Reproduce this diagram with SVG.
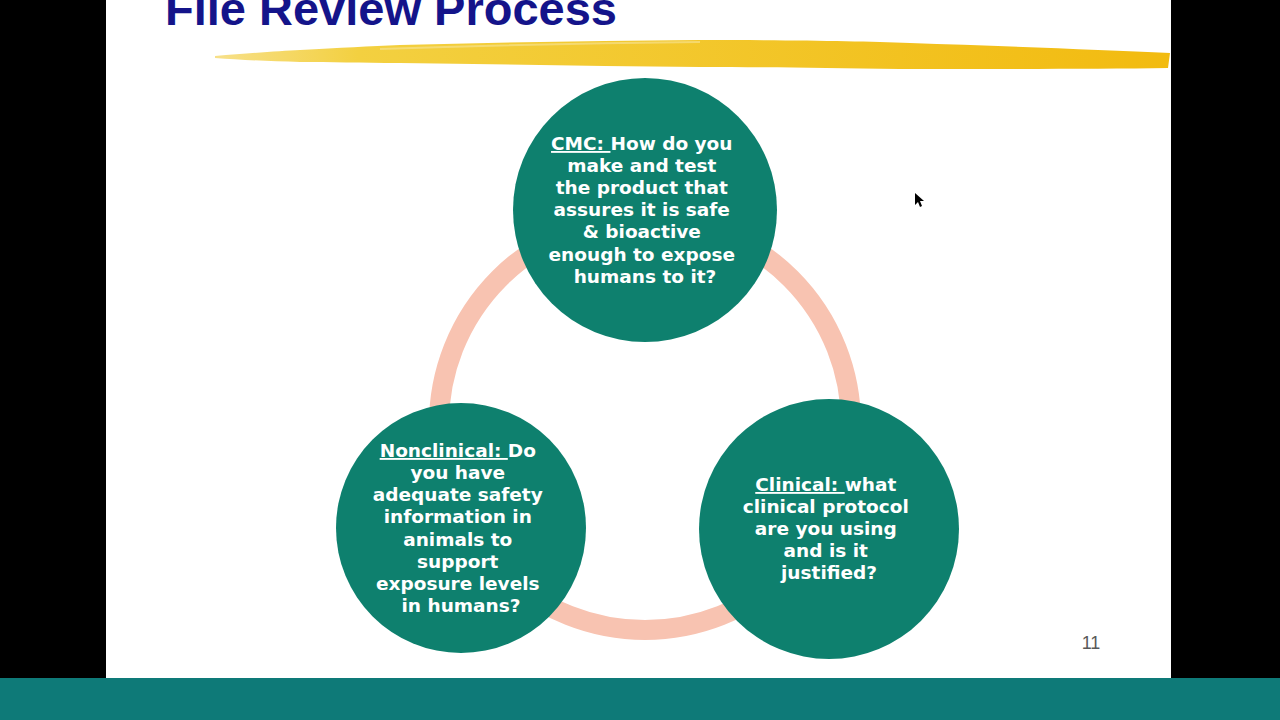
<svg xmlns="http://www.w3.org/2000/svg" width="1280" height="720" viewBox="0 0 1280 720">
<defs>
<style>
.node{fill:#0e806e}
.lbl{font-family:"DejaVu Sans",Verdana,sans-serif;font-weight:bold;font-size:18.5px;fill:#ffffff;text-anchor:middle}
.u{text-decoration:underline}
</style>
<linearGradient id="brush" x1="0" y1="0" x2="1" y2="0">
<stop offset="0" stop-color="#f7e08a"/>
<stop offset="0.15" stop-color="#f3d040"/>
<stop offset="1" stop-color="#f2bb10"/>
</linearGradient>
</defs>
<rect x="0" y="0" width="1280" height="720" fill="#000000"/>
<rect x="106" y="0" width="1065" height="678" fill="#ffffff"/>
<rect x="0" y="678" width="1280" height="42" fill="#0e7a78"/>
<text x="165" y="25" font-family="'Liberation Sans',Arial,sans-serif" font-weight="bold" font-size="47" fill="#14148a">File Review Process</text>
<path d="M215,56 C250,53 280,51 300,50 C340,48 370,46 400,45 C500,42 600,41 700,40 C800,40 860,41 910,43 C1000,46 1100,50 1170,53 L1168,68 C1100,69 1000,69 900,69 C820,68 760,67 700,67 C600,66 500,64 400,63 C360,63 330,62 300,62 C270,61 240,60 215,58 Z" fill="url(#brush)"/>
<path d="M380,49 C500,45 600,43 700,42" stroke="#f7e59a" stroke-width="2" fill="none" opacity="0.6"/>
<g id="connectors">
<circle cx="645" cy="424" r="206" fill="none" stroke="#f8c3b1" stroke-width="20"/>
</g>
<g id="cmc">
<circle class="node" cx="645" cy="210" r="132"/>
<text class="lbl">
<tspan x="645" y="150"><tspan class="u">CMC: </tspan>How do you</tspan>
<tspan x="645" y="172">make and test</tspan>
<tspan x="645" y="194">the product that</tspan>
<tspan x="645" y="216">assures it is safe</tspan>
<tspan x="645" y="238">&amp; bioactive</tspan>
<tspan x="645" y="261">enough to expose</tspan>
<tspan x="645" y="283">humans to it?</tspan>
</text>
</g>
<g id="nonclinical">
<circle class="node" cx="461" cy="528" r="125"/>
<text class="lbl">
<tspan x="461" y="457"><tspan class="u">Nonclinical: </tspan>Do</tspan>
<tspan x="461" y="479">you have</tspan>
<tspan x="461" y="501">adequate safety</tspan>
<tspan x="461" y="523">information in</tspan>
<tspan x="461" y="546">animals to</tspan>
<tspan x="461" y="568">support</tspan>
<tspan x="461" y="590">exposure levels</tspan>
<tspan x="461" y="612">in humans?</tspan>
</text>
</g>
<g id="clinical">
<circle class="node" cx="829" cy="529" r="130"/>
<text class="lbl">
<tspan x="829" y="491"><tspan class="u">Clinical: </tspan>what</tspan>
<tspan x="829" y="513">clinical protocol</tspan>
<tspan x="829" y="535">are you using</tspan>
<tspan x="829" y="557">and is it</tspan>
<tspan x="829" y="579">justified?</tspan>
</text>
</g>
<text x="1091" y="649" font-family="'Liberation Sans',Arial,sans-serif" font-size="18" fill="#595959" text-anchor="middle">11</text>
<path d="M915,193 L915,205 L918,202 L920,207 L922,206 L920,201 L924,201 Z" fill="#000000"/>
</svg>
